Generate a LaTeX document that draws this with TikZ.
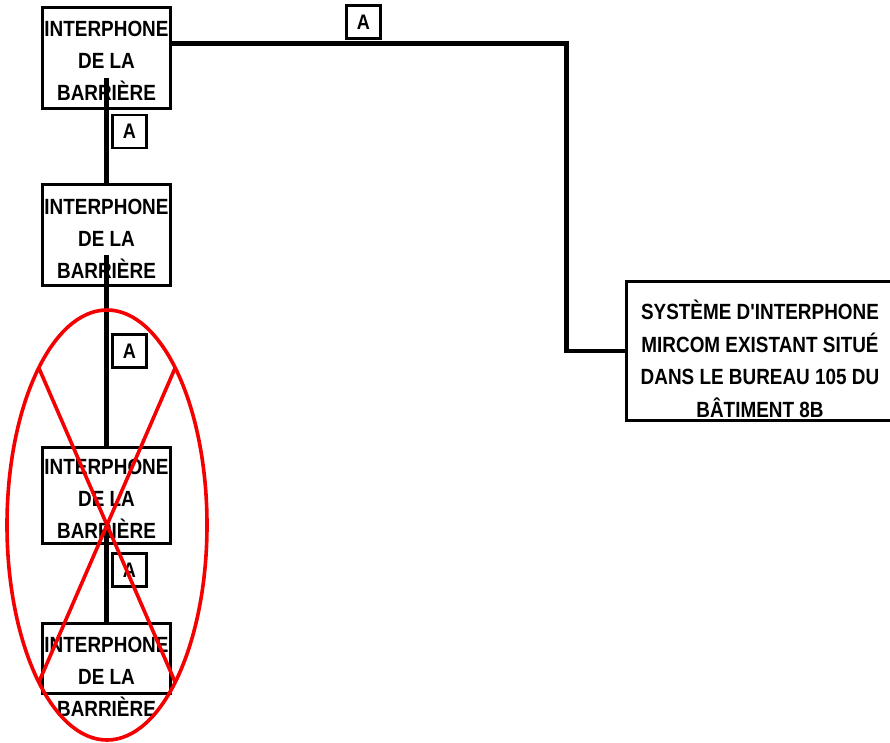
\documentclass[tikz,border=0pt]{standalone}
\usepackage{fontspec}
\newfontfamily\diagfont[FakeStretch=0.86]{Liberation Sans}
\usetikzlibrary{positioning, calc}

\begin{document}
\begin{tikzpicture}[x=1pt, y=-1pt,
    ibox/.style={draw, line width=3pt, minimum width=128pt, inner sep=0pt},
    itext/.style={inner sep=0pt, align=center, font=\diagfont\bfseries\fontsize{22}{32}\selectfont},
    sysbox/.style={draw, line width=3pt, minimum width=267pt, minimum height=139pt, inner sep=0pt},
    tag/.style={draw, fill=white, line width=2.5pt, minimum width=34pt, minimum height=33pt,
        inner sep=0pt, font=\diagfont\bfseries\fontsize{21}{21}\selectfont},
    wire/.style={line width=4.8pt},
    cancel/.style={draw=cancelred, line width=3.6pt}]

    % Define colors
    \definecolor{cancelred}{RGB}{245, 0, 0}

    \useasboundingbox (0,0) rectangle (890,742);

    % Barrier intercoms
    \node[ibox, minimum height=101pt] (b1) at (106.5,58) {};
    \node[ibox, minimum height=101pt] (b2) at (106.5,235) {};
    \node[ibox, minimum height=96pt] (b3) at (106.5,495.5) {};
    \node[ibox, minimum height=70pt] (b4) at (106.5,658.5) {};
    \node[itext, anchor=north] (t1) at ([yshift=-15pt]b1.north) {INTERPHONE\\DE LA\\BARRIÈRE};
    \node[itext, anchor=north] (t2) at ([yshift=-16pt]b2.north) {INTERPHONE\\DE LA\\BARRIÈRE};
    \node[itext, anchor=north] (t3) at ([yshift=-13pt]b3.north) {INTERPHONE\\DE LA\\BARRIÈRE};
    \node[itext, anchor=north] (t4) at ([yshift=-15pt]b4.north) {INTERPHONE\\DE LA\\BARRIÈRE};

    % Existing Mircom system
    \node[sysbox] (sys) at (760,351) {};
    \node[itext, font=\diagfont\bfseries\fontsize{22}{32.5}\selectfont] (tsys) at ([yshift=-8pt]sys.center)
        {SYSTÈME D'INTERPHONE\\MIRCOM EXISTANT SITUÉ\\DANS LE BUREAU 105 DU\\BÂTIMENT 8B};

    % Wiring
    \coordinate (bend) at (566.5,351);
    \draw[wire] ([yshift=14.5pt]b1.east) -| (bend) -- (sys.west);
    \draw[wire] ([yshift=-20pt]b1.center) -- (b2.north);
    \draw[wire] ([yshift=-20pt]b2.center) -- (b3.north);
    \draw[wire] ([yshift=-30pt]b3.center) -- (b4.north);

    % Cable tags
    \node[tag] (a1) at (363.5,22) {A};
    \node[tag] (a2) at (129.5,131.5) {A};
    \node[tag] (a3) at (129.5,351) {A};
    \node[tag] (a4) at (129.5,570) {A};

    % Removed intercoms
    \coordinate (cross) at (107,525);
    \draw[cancel] (cross) ellipse [x radius=100, y radius=215];
    \draw[cancel] ([shift={(-133:100 and 215)}]cross) -- ([shift={(47:100 and 215)}]cross);
    \draw[cancel] ([shift={(-47:100 and 215)}]cross) -- ([shift={(133:100 and 215)}]cross);

\end{tikzpicture}
\end{document}
